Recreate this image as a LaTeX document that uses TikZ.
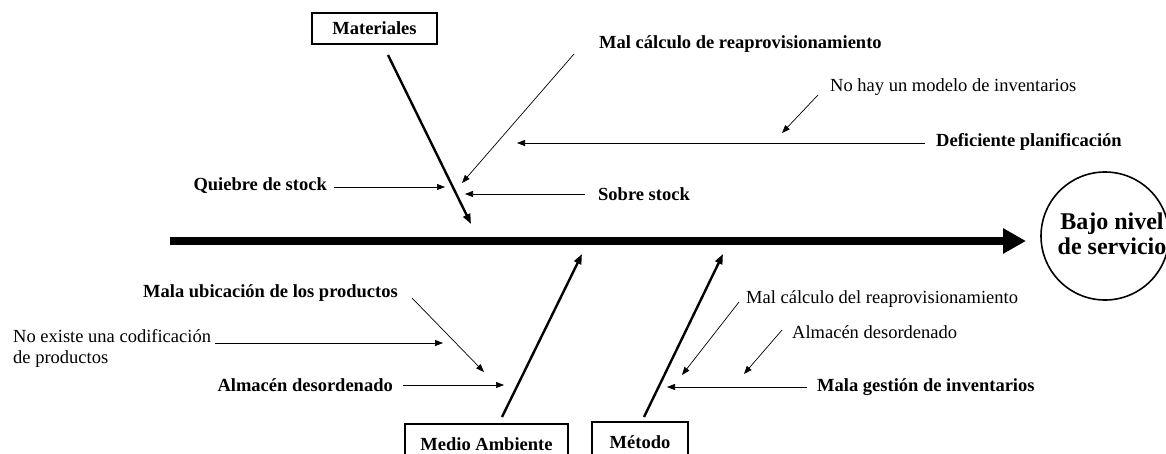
\documentclass[tikz,border=0pt]{standalone}
\usepackage{fontspec}
\setmainfont{Liberation Serif}
\usetikzlibrary{arrows.meta}
\tikzset{
  lblb/.style={font=\fontsize{18.5}{21}\selectfont\bfseries, inner sep=0pt},
  lblr/.style={font=\fontsize{18.5}{21}\selectfont, inner sep=0pt},
  thinarr/.style={-{Triangle[length=8pt,width=6pt]}, line width=0.7pt},
  bone/.style={-{Triangle[length=10pt,width=7.5pt]}, line width=2.4pt},
  catbox/.style={draw, line width=1.6pt, font=\fontsize{18.5}{21}\selectfont\bfseries, inner sep=0pt},
  spine/.style={-{Triangle[length=23pt,width=24pt]}, line width=7.5pt},
}
\begin{document}
\begin{tikzpicture}[x=1pt,y=-1pt]
\useasboundingbox (0,0) rectangle (1166,453);
\clip (0,0) rectangle (1166,453);

% effect
\node[draw, circle, line width=1.6pt, minimum size=128pt, inner sep=0pt] (effect) at (1105,236) {};
\node[font=\fontsize{24}{25}\selectfont\bfseries, align=center, inner sep=0pt] (effecttxt) at (1112,234) {Bajo nivel\\de servicio};

% spine
\coordinate (s0) at (170,241);
\coordinate (s1) at (1026,241);
\draw[spine] (s0) -- (s1);

% category boxes
\node[catbox, minimum width=125pt, minimum height=31pt] (mat) at (374.5,28.5) {Materiales};
\node[catbox, minimum width=163pt, minimum height=40pt] (medio) at (486.5,444) {Medio Ambiente};
\node[catbox, minimum width=96pt, minimum height=40pt] (metodo) at (640,442) {Método};

% bones
\coordinate (mat0) at (388,55);  \coordinate (mat1) at (471,224);
\coordinate (med0) at (502,417); \coordinate (med1) at (582,254);
\coordinate (met0) at (644,417); \coordinate (met1) at (723,254);
\draw[bone] (mat0) -- (mat1);
\draw[bone] (med0) -- (med1);
\draw[bone] (met0) -- (met1);

% Materiales causes
\node[lblb, anchor=west] (malcalc) at (599,44) {Mal cálculo de reaprovisionamiento};
\node[lblr, anchor=west] (nohay) at (830,87) {No hay un modelo de inventarios};
\node[lblb, anchor=west] (defic) at (936,142) {Deficiente planificación};
\node[lblb, anchor=east] (quiebre) at (327,186) {Quiebre de stock};
\node[lblb, anchor=west] (sobre) at (598,194) {Sobre stock};

\coordinate (a1s) at (574,54);  \coordinate (a1e) at (462,183);
\coordinate (a2s) at (818,95);  \coordinate (a2e) at (782,133);
\coordinate (a3s) at (925,143); \coordinate (a3e) at (517,143);
\coordinate (a4s) at (334,187); \coordinate (a4e) at (445,187);
\coordinate (a5s) at (585,194); \coordinate (a5e) at (465,194);
\draw[thinarr] (a1s) -- (a1e);
\draw[thinarr] (a2s) -- (a2e);
\draw[thinarr] (a3s) -- (a3e);
\draw[thinarr] (a4s) -- (a4e);
\draw[thinarr] (a5s) -- (a5e);

% Medio Ambiente causes
\node[lblb, anchor=east] (malub) at (398,293) {Mala ubicación de los productos};
\node[lblr, anchor=north west, align=left] (noex) at (13,329.5) {No existe una codificación\\de productos};
\node[lblb, anchor=east] (almA) at (393,385) {Almacén desordenado};

\coordinate (b1s) at (412,298); \coordinate (b1e) at (484,372);
\coordinate (b2s) at (215,343); \coordinate (b2e) at (443,343);
\coordinate (b3s) at (403,385); \coordinate (b3e) at (504,385);
\draw[thinarr] (b1s) -- (b1e);
\draw[thinarr] (b2s) -- (b2e);
\draw[thinarr] (b3s) -- (b3e);

% Metodo causes
\node[lblr, anchor=west] (malcd) at (746,299) {Mal cálculo del reaprovisionamiento};
\node[lblr, anchor=west] (almB) at (792,332) {Almacén desordenado};
\node[lblb, anchor=west] (malg) at (817,387) {Mala gestión de inventarios};

\coordinate (c1s) at (739,302); \coordinate (c1e) at (682,375);
\coordinate (c2s) at (782,330); \coordinate (c2e) at (744,374);
\coordinate (c3s) at (807,387); \coordinate (c3e) at (667,387);
\draw[thinarr] (c1s) -- (c1e);
\draw[thinarr] (c2s) -- (c2e);
\draw[thinarr] (c3s) -- (c3e);
\end{tikzpicture}
\end{document}
